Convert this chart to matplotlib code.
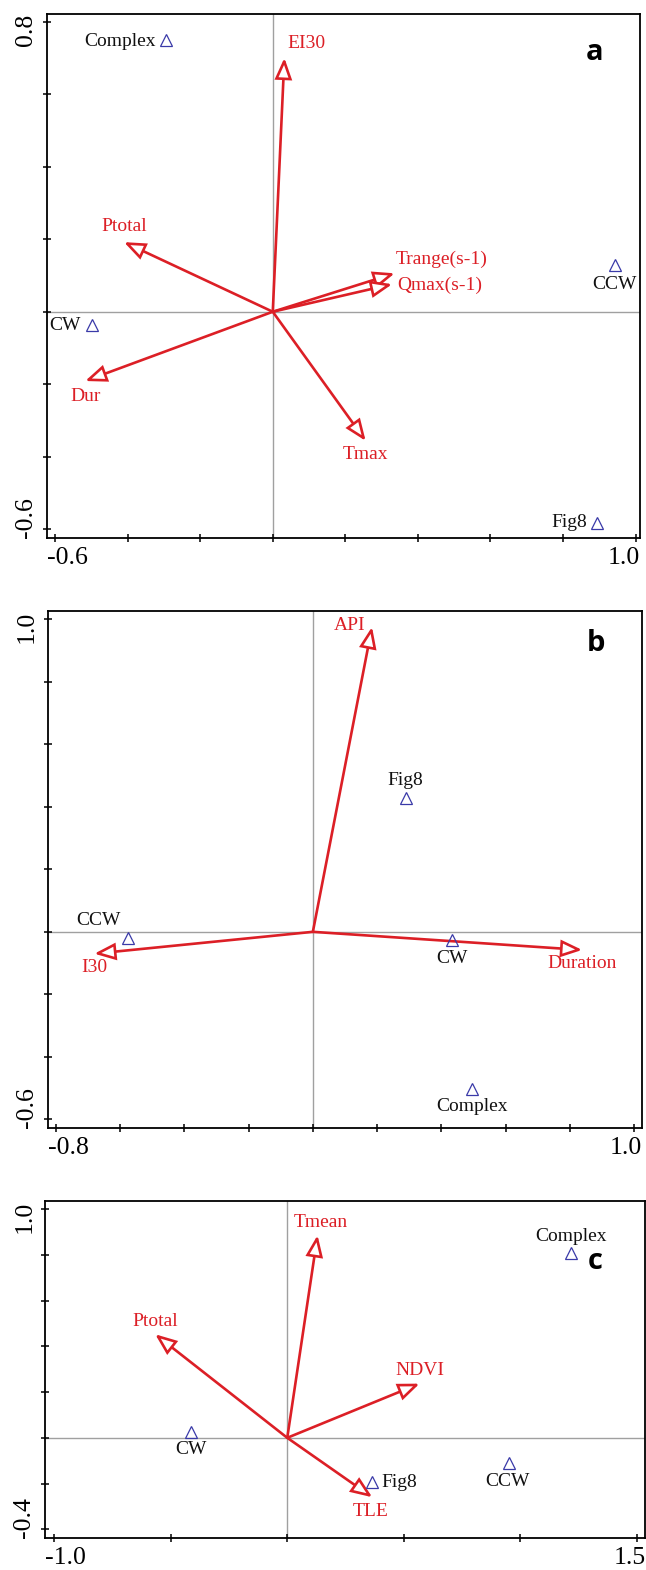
import matplotlib
matplotlib.use("Agg")
import matplotlib.pyplot as plt
import numpy as np
from matplotlib.patches import FancyArrowPatch, ArrowStyle

# ---------------- data ----------------
# Panel a
a_vars = ['EI30', 'Ptotal', 'Trange(s-1)', 'Qmax(s-1)', 'Dur', 'Tmax']
a_vx = [0.032, -0.410, 0.336, 0.329, -0.517, 0.256]
a_vy = [0.700, 0.192, 0.106, 0.076, -0.191, -0.356]
a_samples = ['Complex', 'CCW', 'CW', 'Fig8']
a_sx = [-0.295, 0.942, -0.499, 0.894]
a_sy = [0.750, 0.130, -0.037, -0.582]
a_xticklabels = ['-0.6', '1.0']
a_yticklabels = ['-0.6', '0.8']

# Panel b
b_vars = ['API', 'I30', 'Duration']
b_vx = [0.184, -0.680, 0.838]
b_vy = [0.976, -0.070, -0.058]
b_samples = ['Fig8', 'CCW', 'CW', 'Complex']
b_sx = [0.289, -0.576, 0.434, 0.496]
b_sy = [0.428, -0.021, -0.026, -0.502]
b_xticklabels = ['-0.8', '1.0']
b_yticklabels = ['-0.6', '1.0']

# Panel c
c_vars = ['Tmean', 'Ptotal', 'NDVI', 'TLE']
c_vx = [0.130, -0.567, 0.568, 0.365]
c_vy = [0.886, 0.453, 0.237, -0.260]
c_samples = ['CW', 'Fig8', 'CCW', 'Complex']
c_sx = [-0.414, 0.363, 0.951, 1.216]
c_sy = [0.027, -0.194, -0.110, 0.810]
c_xticklabels = ['-1.0', '1.5']
c_yticklabels = ['-0.4', '1.0']

# ---------------- layout / style ----------------
RED = '#dc1f26'
BLUE = '#3a3aa8'
SERIF = ['Liberation Serif', 'DejaVu Serif']
W, H = 646, 1570

def frac(l, r, t, b):
    return [l / W, 1 - b / H, (r - l) / W, (b - t) / H]

panels = [
    dict(rect=frac(46.7, 640.0, 14.0, 537.7), xlim=(-0.623, 1.012), ylim=(-0.623, 0.821),
         xticks=np.arange(-0.6, 1.01, 0.2), yticks=np.arange(-0.6, 0.81, 0.2),
         vars=a_vars, vx=a_vx, vy=a_vy, samples=a_samples, sx=a_sx, sy=a_sy,
         xtl=a_xticklabels, ytl=a_yticklabels, letter='a', letter_pos=(0.924, 0.927),
         var_off=[((2, 10), 'left'), ((0, 11), 'center'), ((1, 10), 'left'),
                  ((4, -1), 'left'), ((0, -11), 'center'), ((0, -10), 'center')],
         smp_off=[((-7, -1), 'right'), ((0, -14), 'center'), ((-8, 0), 'right'), ((-7, 0), 'right')]),
    dict(rect=frac(47.7, 642.3, 611.0, 1127.7), xlim=(-0.825, 1.025), ylim=(-0.627, 1.027),
         xticks=np.arange(-0.8, 1.01, 0.2), yticks=np.arange(-0.6, 1.01, 0.2),
         vars=b_vars, vx=b_vx, vy=b_vy, samples=b_samples, sx=b_sx, sy=b_sy,
         xtl=b_xticklabels, ytl=b_yticklabels, letter='b', letter_pos=(0.922, 0.938),
         var_off=[((-5, 1), 'right'), ((0, -10), 'center'), ((0, -9.5), 'center')],
         smp_off=[((0, 13), 'center'), ((-21, 13), 'center'), ((0, -13), 'center'), ((0, -12.5), 'center')]),
    dict(rect=frac(45.0, 645.3, 1201.0, 1537.7), xlim=(-1.040, 1.537), ylim=(-0.437, 1.036),
         xticks=np.arange(-1.0, 1.51, 0.5), yticks=np.arange(-0.4, 1.01, 0.2),
         vars=c_vars, vx=c_vx, vy=c_vy, samples=c_samples, sx=c_sx, sy=c_sy,
         xtl=c_xticklabels, ytl=c_yticklabels, letter='c', letter_pos=(0.916, 0.819),
         var_off=[((2, 9), 'center'), ((0, 9.5), 'center'), ((0, 9.5), 'center'), ((-1, -10), 'center')],
         smp_off=[((0, -13), 'center'), ((7, 0), 'left'), ((-1, -13), 'center'), ((0, 11.5), 'center')]),
]

fig = plt.figure(figsize=(W / 100, H / 100), dpi=100)

for p in panels:
    ax = fig.add_axes(p['rect'])
    ax.set_xlim(*p['xlim'])
    ax.set_ylim(*p['ylim'])
    for s in ax.spines.values():
        s.set_linewidth(1.3)
        s.set_color('black')
    ax.set_xticks(p['xticks'])
    ax.set_yticks(p['yticks'])
    ax.tick_params(direction='inout', length=6, width=1.1, labelbottom=False, labelleft=False,
                   top=False, right=False)
    # axis lines through origin
    ax.axhline(0, color='#a0a0a0', lw=1.0, zorder=1)
    ax.axvline(0, color='#a0a0a0', lw=1.0, zorder=1)

    # end tick labels, aligned to the frame ends
    ax.annotate(p['xtl'][0], xy=(0, 0), xycoords='axes fraction', xytext=(0, -7),
                textcoords='offset points', ha='left', va='top', fontsize=18.5, family=SERIF)
    ax.annotate(p['xtl'][1], xy=(1, 0), xycoords='axes fraction', xytext=(0, -7),
                textcoords='offset points', ha='right', va='top', fontsize=18.5, family=SERIF)
    ax.annotate(p['ytl'][0], xy=(0, 0), xycoords='axes fraction', xytext=(-7, 0),
                textcoords='offset points', ha='right', va='bottom', rotation=90,
                fontsize=18.5, family=SERIF)
    ax.annotate(p['ytl'][1], xy=(0, 1), xycoords='axes fraction', xytext=(-7, 0),
                textcoords='offset points', ha='right', va='top', rotation=90,
                fontsize=18.5, family=SERIF)

    # environmental arrows
    style = ArrowStyle('-|>', head_length=12.5, head_width=5.0)
    for name, x, y, (off, ha) in zip(p['vars'], p['vx'], p['vy'], p['var_off']):
        arr = FancyArrowPatch((0, 0), (x, y), arrowstyle=style, mutation_scale=1,
                              lw=1.9, ec=RED, fc='white', shrinkA=0, shrinkB=0,
                              joinstyle='miter', zorder=3)
        ax.add_patch(arr)
        ax.annotate(name, xy=(x, y), xytext=off, textcoords='offset points',
                    ha=ha, va='center', color=RED, fontsize=14, family=SERIF, zorder=4)

    # samples
    ax.plot(p['sx'], p['sy'], linestyle='none', marker='^', markersize=8.5,
            markerfacecolor='none', markeredgecolor=BLUE, markeredgewidth=0.9, zorder=4)
    for name, x, y, (off, ha) in zip(p['samples'], p['sx'], p['sy'], p['smp_off']):
        ax.annotate(name, xy=(x, y), xytext=off, textcoords='offset points',
                    ha=ha, va='center', color='#111111', fontsize=14, family=SERIF, zorder=4)

    ax.text(p['letter_pos'][0], p['letter_pos'][1], p['letter'], transform=ax.transAxes,
            ha='center', va='center', fontsize=21, fontweight='bold',
            family=['Open Sans', 'DejaVu Sans'])

fig.savefig('out.png', dpi=100)
